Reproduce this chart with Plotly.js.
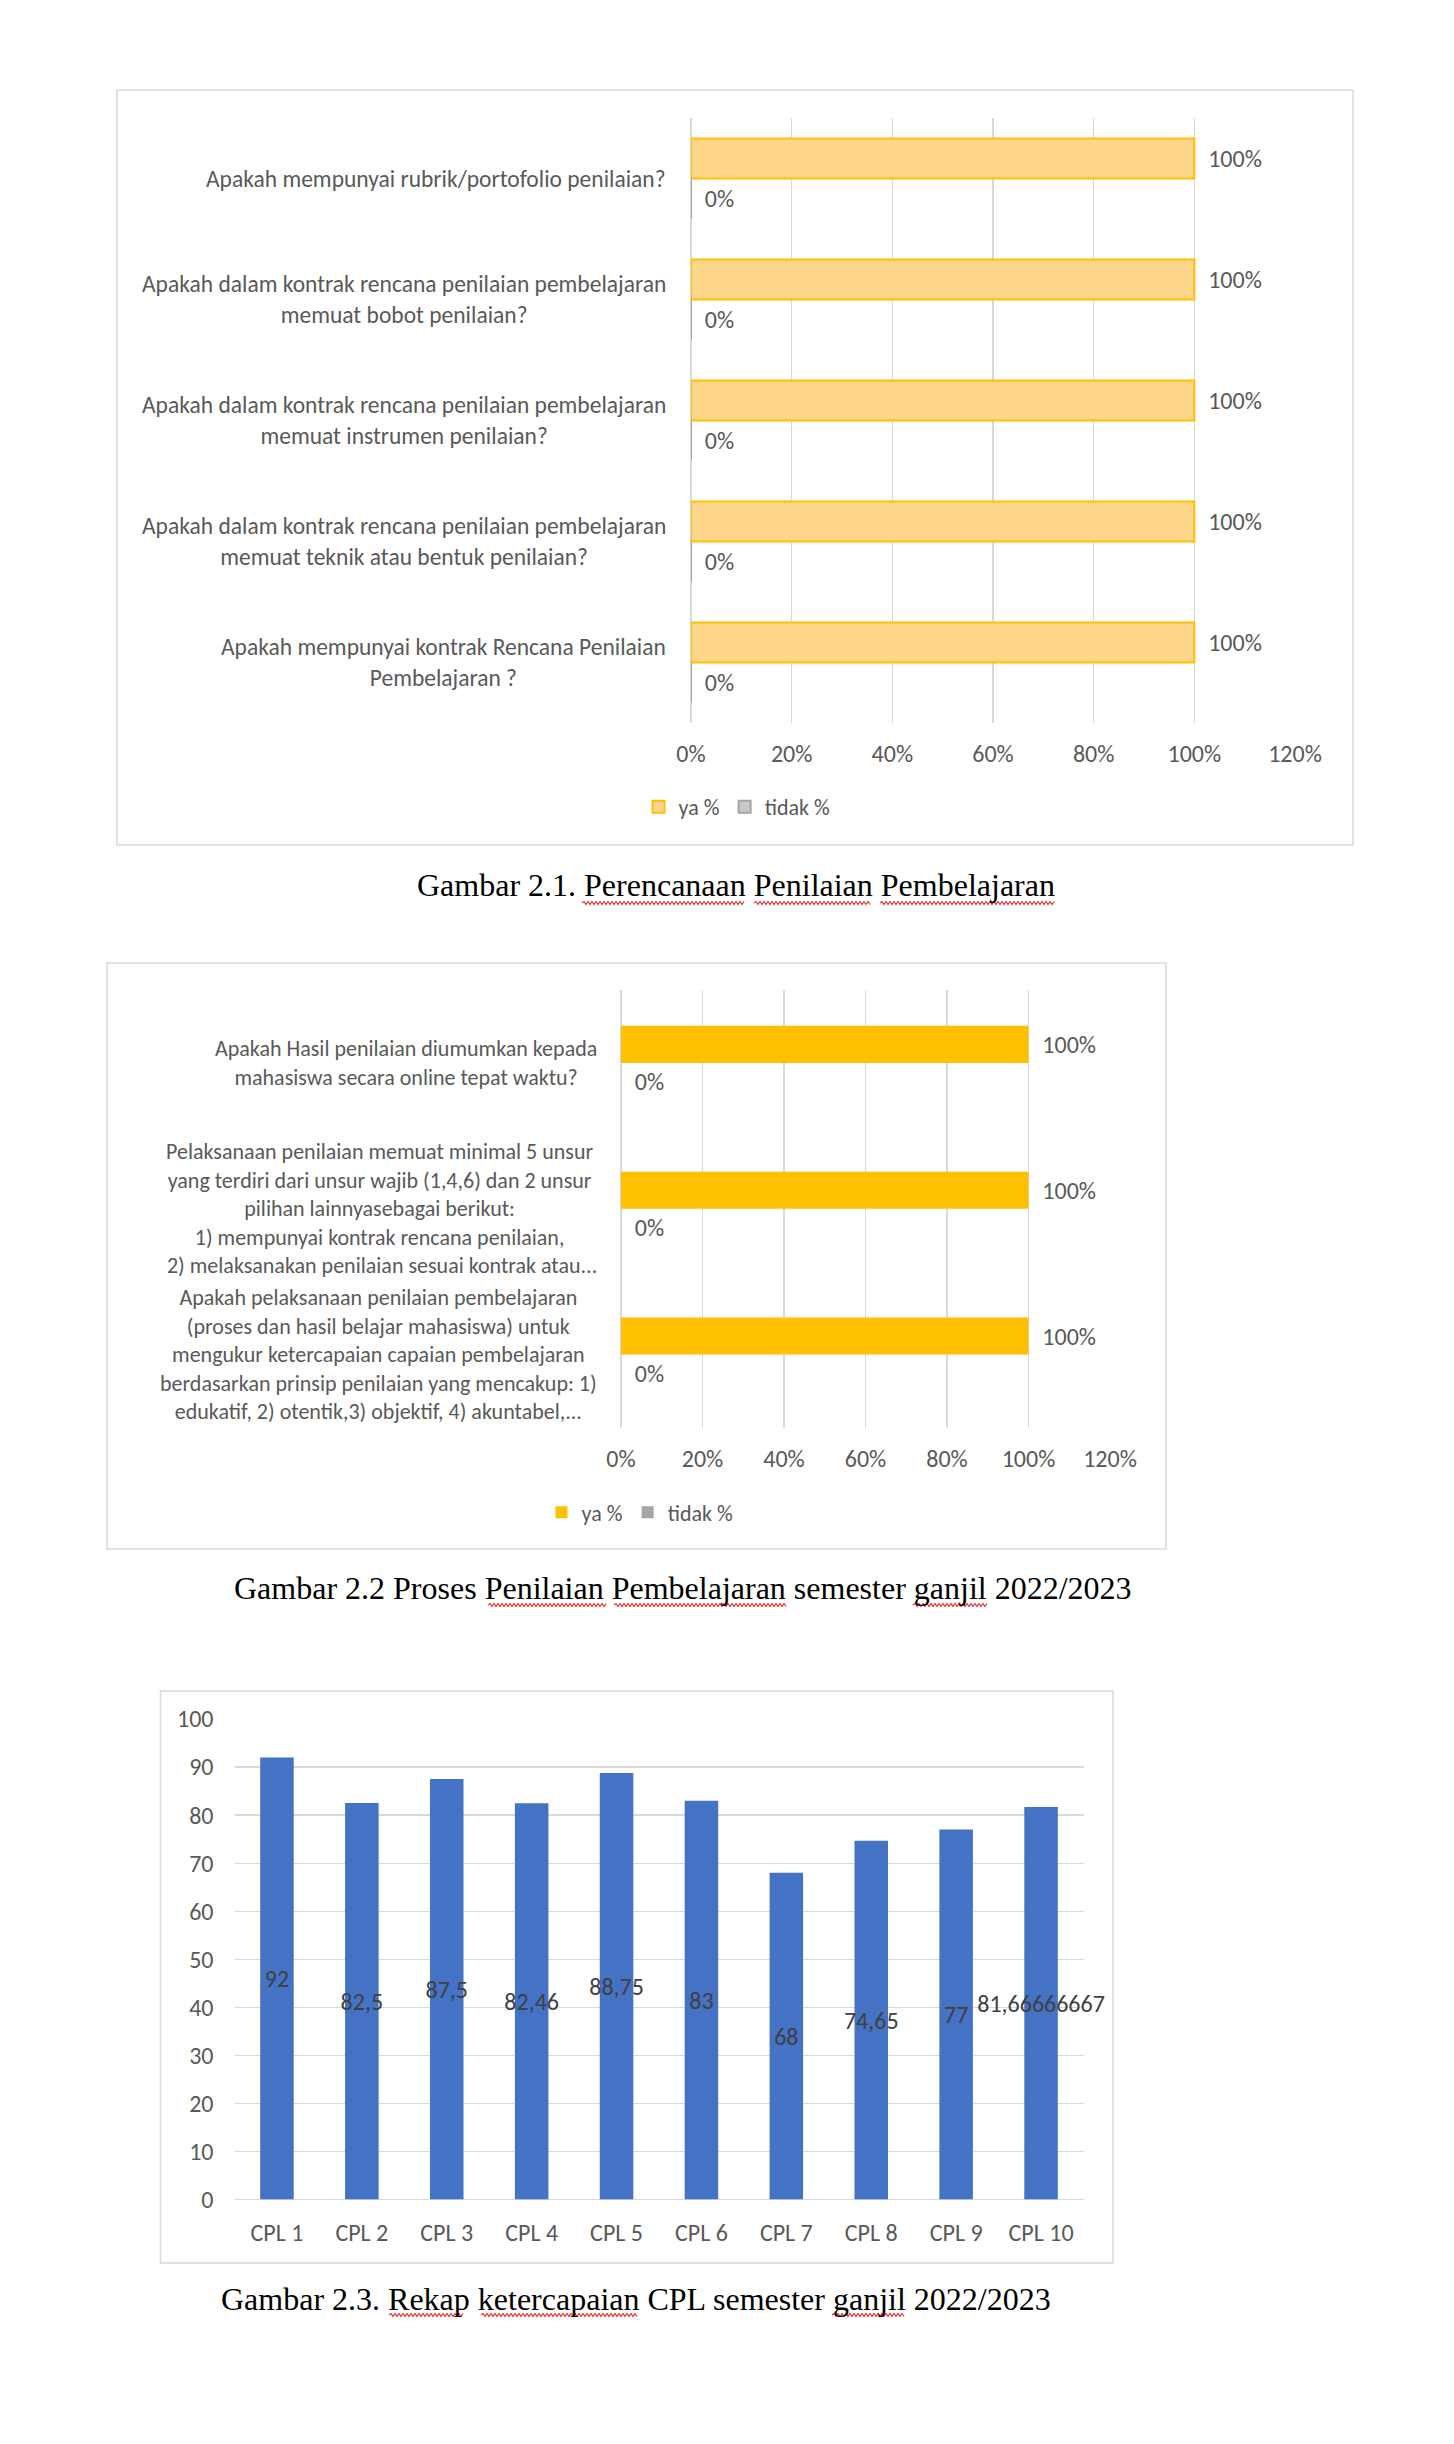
<!DOCTYPE html>
<html>
<head>
<meta charset="utf-8">
<script src="https://cdn.plot.ly/plotly-3.0.1.min.js"></script>
<style>
  html, body { margin: 0; padding: 0; background: #ffffff; }
  #chart { width: 1454px; height: 2444px; }
</style>
</head>
<body>
<div id="chart"></div>
<script>
// ---------- DATA ----------
// Chart 2.1 (categories listed top to bottom)
const c1Categories = [
  "Apakah mempunyai rubrik/portofolio penilaian?",
  "Apakah dalam kontrak rencana penilaian pembelajaran<br>memuat bobot penilaian?",
  "Apakah dalam kontrak rencana penilaian pembelajaran<br>memuat instrumen penilaian?",
  "Apakah dalam kontrak rencana penilaian pembelajaran<br>memuat teknik atau bentuk penilaian?",
  "Apakah mempunyai kontrak Rencana Penilaian<br>Pembelajaran ?"
];
const c1Ya = [1, 1, 1, 1, 1];
const c1Tidak = [0, 0, 0, 0, 0];

// Chart 2.2 (categories listed top to bottom)
const c2Categories = [
  "Apakah Hasil penilaian diumumkan kepada<br>mahasiswa secara online tepat waktu?",
  "Pelaksanaan penilaian memuat minimal 5 unsur<br>yang terdiri dari unsur wajib (1,4,6) dan 2 unsur<br>pilihan lainnyasebagai berikut:<br>1) mempunyai kontrak rencana penilaian,<br> 2) melaksanakan penilaian sesuai kontrak atau...",
  "Apakah pelaksanaan penilaian pembelajaran<br>(proses dan hasil belajar mahasiswa) untuk<br>mengukur ketercapaian capaian pembelajaran<br>berdasarkan prinsip penilaian yang mencakup: 1)<br>edukatif, 2) otentik,3) objektif, 4) akuntabel,..."
];
const c2Ya = [1, 1, 1];
const c2Tidak = [0, 0, 0];

// Chart 2.3
const c3Categories = ["CPL 1", "CPL 2", "CPL 3", "CPL 4", "CPL 5", "CPL 6", "CPL 7", "CPL 8", "CPL 9", "CPL 10"];
const c3Values = [92, 82.5, 87.5, 82.46, 88.75, 83, 68, 74.65, 77, 81.66666667];
const c3Ticks = [0, 10, 20, 30, 40, 50, 60, 70, 80, 90, 100];

const seriesNames = ["ya %", "tidak %"];
const captions = [
  "Gambar 2.1. Perencanaan Penilaian Pembelajaran",
  "Gambar 2.2 Proses Penilaian Pembelajaran semester ganjil 2022/2023",
  "Gambar 2.3. Rekap ketercapaian CPL semester ganjil 2022/2023"
];

// ---------- LAYOUT HELPERS ----------
const W = 1454, H = 2444;
const px = x => x / W;
const py = y => 1 - y / H;
const FONT = "Carlito, 'Liberation Sans Narrow', 'Liberation Sans', sans-serif";
const SERIF = "'Liberation Serif', 'DejaVu Serif', serif";
const GRAY = "#595959";
const GRID = "#D9D9D9";
const pct = v => Math.round(v * 100) + "%";
const comma = v => String(v).replace(".", ",");
const LBL1 = 23.5, LBL2 = 22, TICK = 24, DLBL = 24, LEG = 22;
const PAD = "\u00A0\u00A0";

// ---------- TRACES ----------
const w1 = 0.33, w2 = 0.254, w3 = 0.395;
const traces = [
  {
    type: "bar", orientation: "h", name: seriesNames[0],
    y: c1Categories, x: c1Ya, xaxis: "x", yaxis: "y",
    width: w1, offset: -w1,
    marker: { color: "#FDD68C", line: { color: "#FFC000", width: 2 } },
    text: c1Ya.map(v => PAD + pct(v)), textposition: "outside",
    textfont: { color: GRAY, size: DLBL, family: FONT }, cliponaxis: false,
    legend: "legend", hoverinfo: "skip"
  },
  {
    type: "bar", orientation: "h", name: seriesNames[1],
    y: c1Categories, x: c1Tidak, xaxis: "x", yaxis: "y",
    width: w1, offset: 0,
    marker: { color: "#C9C9C9", line: { color: "#A5A5A5", width: 2 } },
    text: c1Tidak.map(v => PAD + pct(v)), textposition: "outside",
    textfont: { color: GRAY, size: DLBL, family: FONT }, cliponaxis: false,
    legend: "legend", hoverinfo: "skip"
  },
  {
    type: "bar", orientation: "h", name: seriesNames[0],
    y: c2Categories, x: c2Ya, xaxis: "x2", yaxis: "y2",
    width: w2, offset: -w2,
    marker: { color: "#FFC000" },
    text: c2Ya.map(v => PAD + pct(v)), textposition: "outside",
    textfont: { color: GRAY, size: DLBL, family: FONT }, cliponaxis: false,
    legend: "legend2", hoverinfo: "skip"
  },
  {
    type: "bar", orientation: "h", name: seriesNames[1],
    y: c2Categories, x: c2Tidak, xaxis: "x2", yaxis: "y2",
    width: w2, offset: 0,
    marker: { color: "#A5A5A5" },
    text: c2Tidak.map(v => PAD + pct(v)), textposition: "outside",
    textfont: { color: GRAY, size: DLBL, family: FONT }, cliponaxis: false,
    legend: "legend2", hoverinfo: "skip"
  },
  {
    type: "bar", x: c3Categories, y: c3Values, xaxis: "x3", yaxis: "y3",
    width: w3, offset: -w3 / 2,
    marker: { color: "#4472C4" },
    text: c3Values.map(comma), textposition: "inside", insidetextanchor: "middle",
    constraintext: "none", textangle: 0,
    insidetextfont: { color: "#404040", size: DLBL, family: FONT },
    showlegend: false, hoverinfo: "skip", cliponaxis: false
  }
];

// ---------- ANNOTATIONS ----------
const annotations = [];
c1Categories.forEach(c => annotations.push({
  xref: "paper", yref: "y", x: px(668), y: c, xanchor: "right", yanchor: "middle",
  text: c, align: "center", showarrow: false, font: { family: FONT, size: LBL1, color: GRAY }
}));
c2Categories.forEach(c => annotations.push({
  xref: "paper", yref: "y2", x: px(599), y: c, xanchor: "right", yanchor: "middle",
  text: c, align: "center", showarrow: false, font: { family: FONT, size: LBL2, color: GRAY }
}));
const capPos = [[735.5, 885], [683, 1588], [636, 2299]];
captions.forEach((t, i) => annotations.push({
  xref: "paper", yref: "paper", x: px(capPos[i][0]), y: py(capPos[i][1]),
  xanchor: "center", yanchor: "middle", text: t, showarrow: false,
  font: { family: SERIF, size: 32, color: "#000000" }
}));

// ---------- SHAPES (chart frames + spell-check underlines) ----------
const frames = [[117, 90, 1353, 845], [107, 963, 1166, 1549], [160.5, 1691, 1113, 2263]];
const shapes = frames.map(f => ({
  type: "rect", xref: "paper", yref: "paper",
  x0: px(f[0]), x1: px(f[2]), y0: py(f[3]), y1: py(f[1]),
  line: { color: GRID, width: 1.5 }, fillcolor: "rgba(0,0,0,0)", layer: "below"
}));
// red wavy spell-check underlines under caption words (pixel spans)
const squiggles = [
  [582, 744, 903], [754, 871, 903], [880, 1054, 903],
  [488, 607, 1605], [614, 787, 1605], [913, 987, 1605],
  [389, 464, 2315], [481, 638, 2315], [832, 905, 2315]
];
squiggles.forEach(s => {
  let d = "M" + px(s[0]) + "," + py(s[2]);
  let up = true;
  for (let x = s[0] + 2; x <= s[1]; x += 2) {
    d += " L" + px(x) + "," + py(s[2] + (up ? -1.5 : 1.5));
    up = !up;
  }
  shapes.push({ type: "path", xref: "paper", yref: "paper", path: d,
                line: { color: "#E03030", width: 1.2 } });
});

const pctAxis = (domain, anchor) => ({
  domain, anchor, range: [0, 1.2], tickvals: [0, 0.2, 0.4, 0.6, 0.8, 1.0, 1.2],
  ticktext: [0, 0.2, 0.4, 0.6, 0.8, 1.0, 1.2].map(pct),
  showgrid: true, gridcolor: GRID, gridwidth: 1.3, zeroline: true, zerolinecolor: GRID, zerolinewidth: 1.3,
  showline: false, ticks: "", ticklabelstandoff: 14, fixedrange: true,
  tickfont: { family: FONT, size: TICK, color: GRAY }
});

const layout = {
  width: W, height: H,
  margin: { l: 0, r: 0, t: 0, b: 0 },
  paper_bgcolor: "#ffffff", plot_bgcolor: "#ffffff",
  font: { family: FONT, color: GRAY },
  barmode: "group",
  xaxis: pctAxis([px(691), px(1295)], "y"),
  yaxis: { domain: [py(723), py(118)], anchor: "x", type: "category", autorange: "reversed",
           showticklabels: false, showgrid: false, zeroline: false, showline: false, ticks: "" },
  xaxis2: pctAxis([px(621), px(1110)], "y2"),
  yaxis2: { domain: [py(1427.5), py(990)], anchor: "x2", type: "category", autorange: "reversed",
            showticklabels: false, showgrid: false, zeroline: false, showline: false, ticks: "" },
  xaxis3: { domain: [px(234.5), px(1083.5)], anchor: "y3", type: "category",
            showgrid: false, zeroline: false, showline: false, ticks: "", ticklabelstandoff: 16,
            tickfont: { family: FONT, size: TICK, color: GRAY } },
  yaxis3: { domain: [py(2199.6), py(1719)], anchor: "x3", range: [0, 100], tickvals: c3Ticks,
            showgrid: true, gridcolor: GRID, gridwidth: 1.3, zeroline: true, zerolinecolor: GRID, zerolinewidth: 1.3,
            showline: false, ticks: "", ticklabelstandoff: 20,
            tickfont: { family: FONT, size: TICK, color: GRAY } },
  legend: { orientation: "h", x: px(737), xanchor: "center", y: py(807), yanchor: "middle",
            font: { family: FONT, size: LEG, color: GRAY }, bgcolor: "rgba(0,0,0,0)", itemwidth: 30 },
  legend2: { orientation: "h", x: px(640), xanchor: "center", y: py(1512.5), yanchor: "middle",
             font: { family: FONT, size: LEG, color: GRAY }, bgcolor: "rgba(0,0,0,0)", itemwidth: 30 },
  annotations, shapes, showlegend: true
};

Plotly.newPlot("chart", traces, layout, { staticPlot: true, displayModeBar: false });
</script>
</body>
</html>
